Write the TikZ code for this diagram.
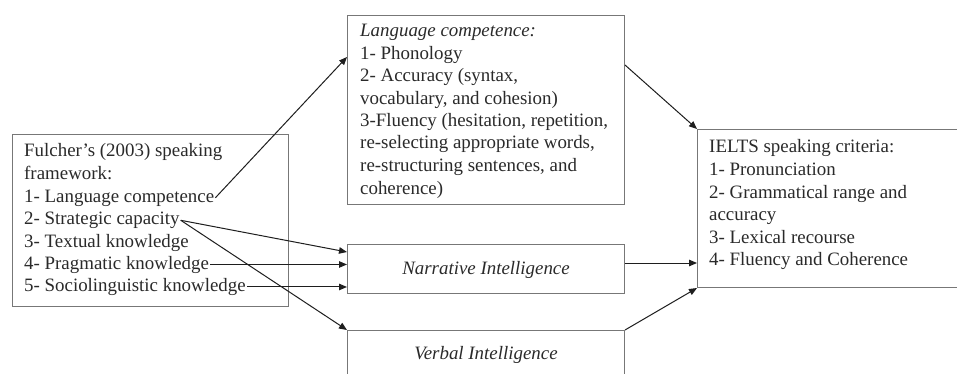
\documentclass[tikz,border=0pt]{standalone}
\usepackage{fontspec}
\setmainfont{Liberation Serif}
\usetikzlibrary{arrows.meta}
\definecolor{txt}{HTML}{2A2A2A}
\definecolor{frame}{HTML}{777777}
\definecolor{arr}{HTML}{1E1E1E}
\tikzset{
  boxframe/.style={draw=frame, line width=1pt},
  line/.style={inner sep=0pt, anchor=base west, text=txt, font=\fontsize{18.9}{22.3}\selectfont},
  conn/.style={draw=arr, line width=1pt, -{Triangle[length=8pt,width=6.5pt]}},
}
\begin{document}
\begin{tikzpicture}[x=1pt,y=-1pt]
\clip (0,0) rectangle (957,374);
\fill[white] (0,0) rectangle (957,374);
% boxes
\path[boxframe] (12,135) rectangle (288,306);
\node[boxframe, inner sep=0pt, minimum width=277pt, minimum height=189pt, anchor=north west] (top) at (347,15) {};
\node[boxframe, inner sep=0pt, minimum width=277pt, minimum height=49pt, anchor=north west] (narr) at (347,244) {};
\node[boxframe, inner sep=0pt, minimum width=277pt, minimum height=80pt, anchor=north west] (verb) at (347,330) {};
\node[boxframe, inner sep=0pt, minimum width=280pt, minimum height=158pt, anchor=north west] (ielts) at (697,129) {};
% left text
\node[line] (l1) at (24,157) {Fulcher’s (2003) speaking};
\node[line] (l2) at (24,179.5) {framework:};
\node[line] (l3) at (24,202) {1- Language competence};
\node[line] (l4) at (24,224.5) {2- Strategic capacity};
\node[line] (l5) at (24,247) {3- Textual knowledge};
\node[line] (l6) at (24,269) {4- Pragmatic knowledge};
\node[line] (l7) at (24,291.5) {5- Sociolinguistic knowledge};
% top text
\node[line] (t1) at (360,37) {\itshape Language competence:};
\node[line] (t2) at (360,59.5) {1- Phonology};
\node[line] (t3) at (360,82) {2- Accuracy (syntax,};
\node[line] (t4) at (360,104.5) {vocabulary, and cohesion)};
\node[line] (t5) at (360,127) {3-Fluency (hesitation, repetition,};
\node[line] (t6) at (360,149) {re-selecting appropriate words,};
\node[line] (t7) at (360,171.5) {re-structuring sentences, and};
\node[line] (t8) at (360,194) {coherence)};
% ielts text
\node[line] (i1) at (709,153) {IELTS speaking criteria:};
\node[line] (i2) at (709,175.5) {1- Pronunciation};
\node[line] (i3) at (709,198) {2- Grammatical range and};
\node[line] (i4) at (709,220.5) {accuracy};
\node[line] (i5) at (709,243) {3- Lexical recourse};
\node[line] (i6) at (709,265.5) {4- Fluency and Coherence};
% centered labels
\node[line, anchor=base] (nl) at (486,274) {\itshape Narrative Intelligence};
\node[line, anchor=base] (vl) at (486,359) {\itshape Verbal Intelligence};
% connectors
\draw[conn] ([xshift=1pt]l3.east) -- ([yshift=-42pt]top.north west);
\draw[conn] ([yshift=-50pt]top.north east) -- (ielts.north west);
\draw[conn] ([xshift=1pt]l4.east) -- ([yshift=-8pt]narr.north west);
\draw[conn] ([xshift=1pt]l4.east) -- (verb.north west);
\draw[conn] ([xshift=1pt]l6.east) -- (l6.east -| narr.west);
\draw[conn] ([xshift=1pt]l7.east) -- (l7.east -| narr.west);
\draw[conn] ([yshift=-19pt]narr.north east) -- ([yshift=-19pt]narr.north east -| ielts.west);
\draw[conn] (verb.north east) -- (ielts.south west);
\end{tikzpicture}
\end{document}
